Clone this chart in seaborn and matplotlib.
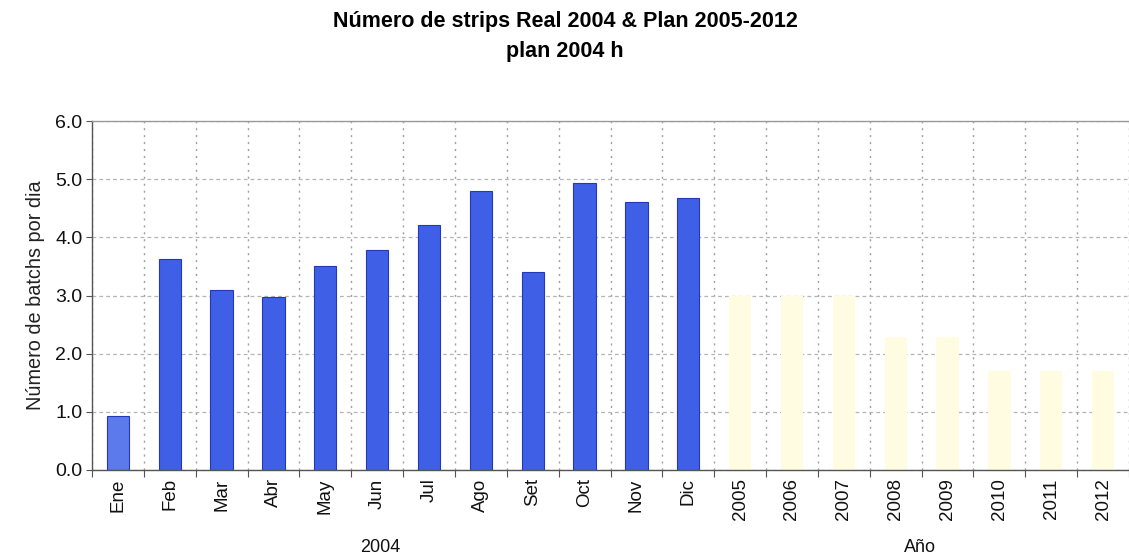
import matplotlib
matplotlib.use("Agg")
import matplotlib.pyplot as plt
import numpy as np
import pandas as pd
import seaborn as sns

# Monthly actuals for 2004 and yearly plan 2005-2012 (batches per day)
months_2004 = ["Ene", "Feb", "Mar", "Abr", "May", "Jun",
               "Jul", "Ago", "Set", "Oct", "Nov", "Dic"]
real_2004 = [0.93, 3.62, 3.09, 2.97, 3.50, 3.78,
             4.22, 4.80, 3.40, 4.93, 4.60, 4.67]
plan_years = ["2005", "2006", "2007", "2008", "2009", "2010", "2011", "2012"]
plan_values = [3.00, 3.00, 3.00, 2.28, 2.28, 1.70, 1.70, 1.70]
y_ticks = [0.0, 1.0, 2.0, 3.0, 4.0, 5.0, 6.0]

sns.set_theme(style="white")
plt.rcParams["font.family"] = ["Liberation Sans", "DejaVu Sans"]
plt.rcParams["text.color"] = "#111111"

df = pd.DataFrame({
    "periodo": months_2004 + plan_years,
    "valor": real_2004 + plan_values,
    "serie": ["Real"] * len(months_2004) + ["Plan"] * len(plan_years),
})

W, H = 1129, 559
fig = plt.figure(figsize=(W / 100, H / 100), dpi=100)
ax = fig.add_axes([92 / W, 1 - 470 / H, 1 - 92 / W, (470 - 121) / H])

sns.barplot(data=df, x="periodo", y="valor", hue="serie",
            palette={"Real": "#3F60E6", "Plan": "#FFFCE2"},
            dodge=False, width=0.43, saturation=1, legend=False,
            order=months_2004 + plan_years, ax=ax)

for i, p in enumerate(ax.patches):
    fc = p.get_facecolor()
    if fc[2] > 0.8 and fc[0] < 0.5:
        p.set_edgecolor("#2438B5")
        p.set_linewidth(0.8)
    else:
        p.set_edgecolor("none")
# January bar is drawn in a lighter shade
ax.patches[0].set_facecolor("#5D7AEC")

n = len(months_2004) + len(plan_years)
ax.set_xlim(-0.5, -0.5 + (W - 92) / 52.4)
ax.set_ylim(0, 6)
ax.set_yticks(y_ticks)
ax.set_yticklabels([f"{v:.1f}" for v in y_ticks], fontsize=14)
ax.set_xticks(np.arange(n))
ax.set_xticklabels(months_2004 + plan_years, rotation=90, fontsize=13.5)
ax.set_xticks(np.arange(-0.5, n, 1), minor=True)

ax.tick_params(axis="x", which="major", length=0, pad=6, colors="#111111")
ax.tick_params(axis="x", which="minor", length=5, width=0.8,
               direction="out", color="#555555", bottom=True)
ax.tick_params(axis="y", which="major", length=4, width=0.8, pad=3,
               direction="out", color="#555555", left=True, labelcolor="#111111")

ax.grid(False)
ax.xaxis.grid(True, which="minor", linestyle=(0, (1.5, 3.5)), color="#a0a0a0", linewidth=1.0)
ax.yaxis.grid(True, which="major", linestyle=(0, (3, 2.5)), color="#b4b4b4", linewidth=0.9)
ax.set_axisbelow(True)

for side in ["left", "bottom"]:
    ax.spines[side].set_color("#555555")
    ax.spines[side].set_linewidth(1.0)
ax.spines["top"].set_color("#9a9a9a")
ax.spines["top"].set_linewidth(1.0)
ax.spines["right"].set_visible(False)

ax.set_xlabel("")
ax.set_ylabel("Número de batchs por dia", fontsize=14.3, color="#222222", labelpad=7)

fig.text(565 / W, 1 - 22 / H, "Número de strips Real 2004 & Plan 2005-2012",
         ha="center", va="center", fontsize=15.5, fontweight="bold", color="#000000")
fig.text(565 / W, 1 - 52 / H, "plan 2004 h",
         ha="center", va="center", fontsize=15.5, fontweight="bold", color="#000000")
fig.text(380 / W, 1 - 548 / H, "2004", ha="center", va="center", fontsize=13)
fig.text(920 / W, 1 - 548 / H, "Año", ha="center", va="center", fontsize=13)

fig.savefig("out.png", dpi=100)
